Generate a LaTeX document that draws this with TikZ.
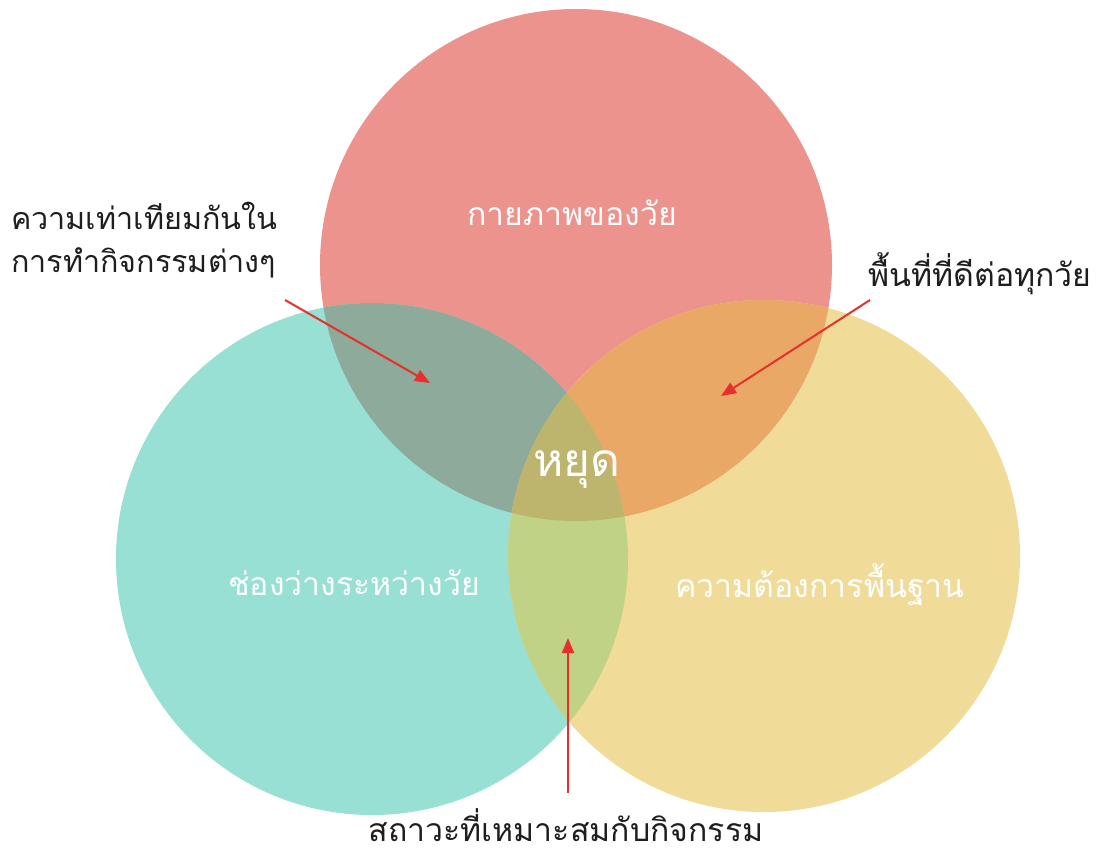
\documentclass[tikz,border=0pt]{standalone}
\usepackage{fontspec}
\setmainfont{Liberation Sans}
\newfontfamily\thai[Script=Thai]{Loma}
\usetikzlibrary{arrows.meta}
\definecolor{cT}{HTML}{EC938E}
\definecolor{cL}{HTML}{97E0D3}
\definecolor{cR}{HTML}{F0DC98}
\definecolor{cTL}{HTML}{8DAA9A}
\definecolor{cTR}{HTML}{EAA866}
\definecolor{cLR}{HTML}{C0D285}
\definecolor{cTLR}{HTML}{BDB46D}
\definecolor{arr}{HTML}{E5302D}
\definecolor{txt}{HTML}{1E1E1E}
\tikzset{
  lbl/.style={font=\thai\fontsize{32}{43}\selectfont, inner sep=0pt},
  inlbl/.style={lbl, text=white},
  outlbl/.style={lbl, text=txt},
  pointer/.style={draw=arr, line width=2pt, -{Triangle[length=15pt,width=12pt]}}
}
\begin{document}
\begin{tikzpicture}[x=1pt,y=-1pt]
\useasboundingbox (0,0) rectangle (1101,851);
\fill[white] (0,0) rectangle (1101,851);
\coordinate (T) at (576,265);
\coordinate (L) at (372,559);
\coordinate (R) at (764,556);
\def\rad{256}
\fill[cT] (T) circle (\rad);
\fill[cL] (L) circle (\rad);
\fill[cR] (R) circle (\rad);
\begin{scope}
  \clip (T) circle (\rad);
  \fill[cTL] (L) circle (\rad);
  \fill[cTR] (R) circle (\rad);
\end{scope}
\begin{scope}
  \clip (L) circle (\rad);
  \fill[cLR] (R) circle (\rad);
\end{scope}
\begin{scope}
  \clip (T) circle (\rad);
  \clip (L) circle (\rad);
  \fill[cTLR] (R) circle (\rad);
\end{scope}
\node[inlbl] (top) at (572,213) {กายภาพของวัย};
\node[inlbl] (left) at (354,583) {ช่องว่างระหว่างวัย};
\node[inlbl] (right) at (820,585) {ความต้องการพื้นฐาน};
\node[inlbl, font=\thai\fontsize{46}{52}\selectfont] (mid) at (577,470) {หยุด};
\node[outlbl, anchor=north west, align=left, font=\thai\fontsize{30.5}{43}\selectfont] (eq) at (11,202) {ความเท่าเทียมกันใน\\การทำกิจกรรมต่างๆ};
\node[outlbl] (good) at (980,274) {พื้นที่ที่ดีต่อทุกวัย};
\node[outlbl] (cond) at (566,825) {สถาวะที่เหมาะสมกับกิจกรรม};
\coordinate (eqS) at (285,300);
\coordinate (eqE) at (430,383);
\coordinate (goodS) at (870,300);
\coordinate (goodE) at (721,396);
\coordinate (condS) at (568,793);
\coordinate (condE) at (568,638);
\draw[pointer] (eqS) -- (eqE);
\draw[pointer] (goodS) -- (goodE);
\draw[pointer] (condS) -- (condE);
\end{tikzpicture}
\end{document}
